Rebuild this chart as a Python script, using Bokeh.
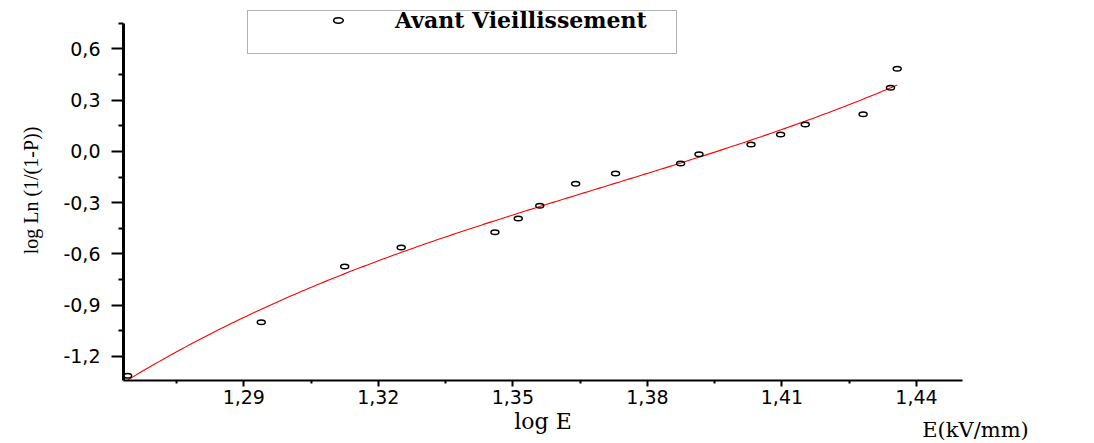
import numpy as np
from bokeh.plotting import figure
from bokeh.models import (ColumnDataSource, Range1d, FixedTicker, Legend, LegendItem,
                          BoxAnnotation, Label)
from bokeh.embed import file_html
from bokeh.resources import INLINE

# Weibull plot data: log E against log Ln(1/(1-P))
log_e = [1.2641, 1.2939, 1.3125, 1.3251, 1.3460, 1.3512, 1.3560, 1.3640, 1.3729,
         1.3874, 1.3915, 1.4031, 1.4097, 1.4152, 1.4281, 1.4342, 1.4357]
log_ln = [-1.313, -1.000, -0.673, -0.562, -0.473, -0.393, -0.318, -0.190, -0.129,
          -0.071, -0.016, 0.040, 0.099, 0.157, 0.218, 0.372, 0.483]

x_ticks = [1.29, 1.32, 1.35, 1.38, 1.41, 1.44]
x_tick_labels = ["1,29", "1,32", "1,35", "1,38", "1,41", "1,44"]
x_minor = [1.275, 1.305, 1.335, 1.365, 1.395, 1.425]

y_ticks = [-1.2, -0.9, -0.6, -0.3, 0.0, 0.3, 0.6]
y_tick_labels = ["-1,2", "-0,9", "-0,6", "-0,3", "0,0", "0,3", "0,6"]
y_minor = [-1.05, -0.75, -0.45, -0.15, 0.15, 0.45, 0.75]

series_name = "Avant Vieillissement"

# cubic least-squares fit drawn over the range of the measurements
coef = np.polyfit(log_e, log_ln, 3)
fit_x = np.linspace(min(log_e), max(log_e), 200)
fit_y = np.polyval(coef, fit_x)

p = figure(width=1094, height=443, output_backend="svg", toolbar_location=None,
           x_range=Range1d(1.26318, 1.45026), y_range=Range1d(-1.3406, 0.883),
           min_border_left=123, min_border_right=132, min_border_top=0,
           min_border_bottom=63, background_fill_color="white",
           border_fill_color="white")
p.outline_line_color = None
p.xgrid.visible = False
p.ygrid.visible = False

p.line(fit_x, fit_y, line_color="red", line_width=1.1)
pts = p.ellipse(x="x", y="y", source=ColumnDataSource(dict(x=log_e, y=log_ln)),
                width=8, height=4.5, width_units="screen", height_units="screen",
                fill_color=None, line_color="black", line_width=1.5)

xa = p.xaxis[0]
xa.ticker = FixedTicker(ticks=x_ticks, minor_ticks=x_minor)
xa.major_label_overrides = dict(zip(x_ticks, x_tick_labels))
xa.bounds = (1.26318, 1.45026)
xa.axis_line_width = 2
xa.major_tick_line_width = 2
xa.minor_tick_line_width = 2
xa.major_tick_out = 6
xa.major_tick_in = 0
xa.minor_tick_out = 3
xa.minor_tick_in = 0
xa.major_label_standoff = 3
xa.major_label_text_font = "DejaVu Sans"
xa.major_label_text_font_size = "19px"
xa.major_label_text_color = "black"
xa.axis_label = "log E"
xa.axis_label_standoff = 2
xa.axis_label_text_font = "DejaVu Serif"
xa.axis_label_text_font_style = "normal"
xa.axis_label_text_font_size = "22px"
xa.axis_label_text_color = "black"

ya = p.yaxis[0]
ya.ticker = FixedTicker(ticks=y_ticks, minor_ticks=y_minor)
ya.major_label_overrides = dict(zip(y_ticks, y_tick_labels))
ya.bounds = (-1.3406, 0.7501)
ya.axis_line_width = 3
ya.major_tick_line_width = 2
ya.minor_tick_line_width = 2
ya.major_tick_out = 12
ya.major_tick_in = 0
ya.minor_tick_out = 5
ya.minor_tick_in = 0
ya.major_label_standoff = 11
ya.major_label_text_font = "DejaVu Sans"
ya.major_label_text_font_size = "19px"
ya.major_label_text_color = "black"
ya.axis_label = "log Ln (1/(1-P))"
ya.axis_label_standoff = 18
ya.axis_label_text_font = "Liberation Serif"
ya.axis_label_text_font_style = "normal"
ya.axis_label_text_font_size = "20px"
ya.axis_label_text_color = "black"

# legend: framed box with the marker and the bold series name
p.add_layout(BoxAnnotation(left=124, right=553, top=370, bottom=327,
                           left_units="screen", right_units="screen",
                           top_units="screen", bottom_units="screen",
                           fill_color=None, line_color="black", line_width=1))
legend = Legend(items=[LegendItem(label=series_name, renderers=[pts])],
                location=(209, 347), margin=0, padding=0, spacing=0,
                glyph_width=12, glyph_height=24, label_height=24,
                label_standoff=51, border_line_alpha=0, background_fill_alpha=0,
                label_text_font="DejaVu Serif", label_text_font_style="bold",
                label_text_font_size="22px", label_text_color="black")
p.add_layout(legend)

# unit note under the right end of the x axis (kept in the right-hand panel)
p.add_layout(Label(x=13, y=-49, x_units="screen", y_units="screen",
                   text="E(kV/mm)", text_align="center", text_baseline="middle",
                   text_font="DejaVu Serif", text_font_size="21px",
                   text_color="black"), "right")

open("out.html", "w").write(file_html(p, INLINE))
